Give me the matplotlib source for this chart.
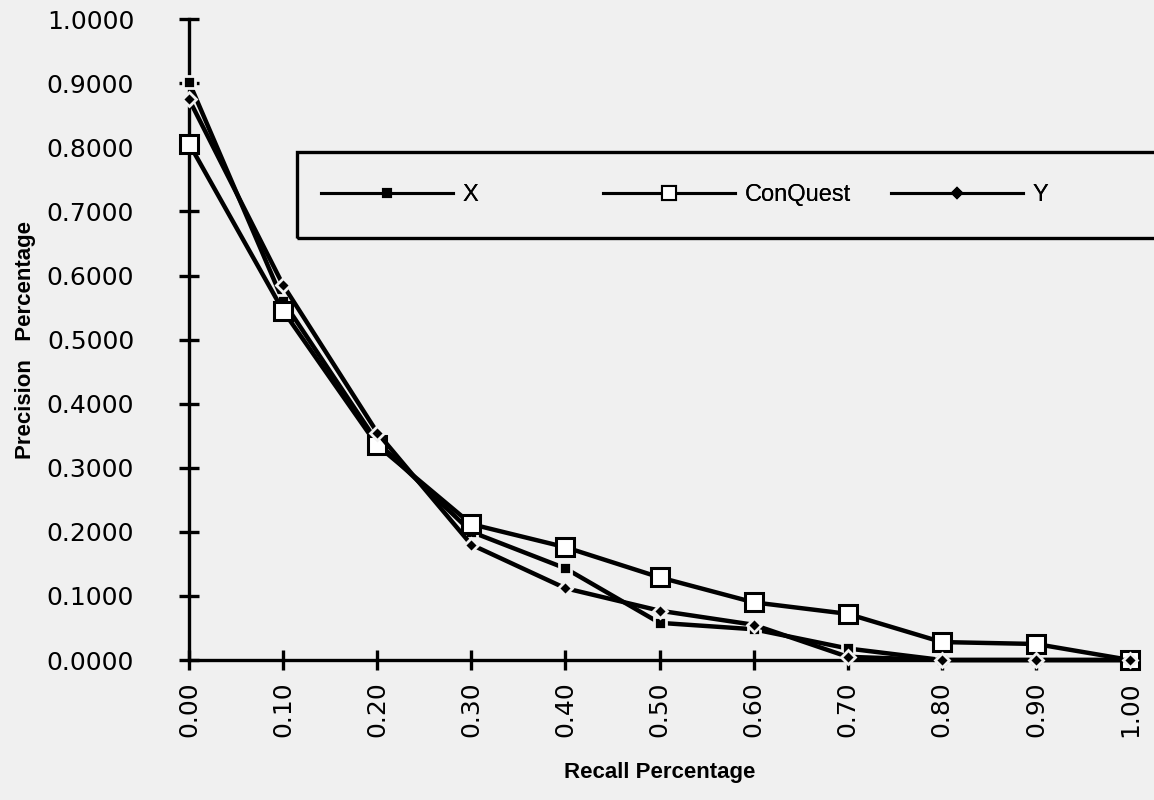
import matplotlib
matplotlib.use("Agg")
import matplotlib.pyplot as plt
from matplotlib.lines import Line2D
from matplotlib.patches import Rectangle

# recall levels and precision values
recall = [0.0, 0.1, 0.2, 0.3, 0.4, 0.5, 0.6, 0.7, 0.8, 0.9, 1.0]
prec_x = [0.902, 0.560, 0.340, 0.200, 0.143, 0.058, 0.048, 0.018, 0.0, 0.0, 0.0]
prec_conquest = [0.806, 0.545, 0.335, 0.212, 0.176, 0.129, 0.090, 0.072, 0.028, 0.025, 0.0]
prec_y = [0.875, 0.585, 0.355, 0.180, 0.112, 0.077, 0.055, 0.005, 0.0, 0.0, 0.0]

y_ticks = [0.0, 0.1, 0.2, 0.3, 0.4, 0.5, 0.6, 0.7, 0.8, 0.9, 1.0]
series_names = ["X", "ConQuest", "Y"]

BG = "#f0f0f0"
TICK_FONT = "DejaVu Sans"
LABEL_FONT = ["Liberation Sans", "DejaVu Sans"]
LEGEND_FONT = ["Liberation Sans Narrow", "Liberation Sans", "DejaVu Sans"]

fig = plt.figure(figsize=(11.54, 8.0), dpi=100, facecolor=BG)
ax = fig.add_axes([0.1638, 0.175, 0.8154, 0.801], facecolor=BG)

styles = [
    dict(marker="s", markersize=8, markerfacecolor="black", markeredgecolor=BG, markeredgewidth=2.0),
    dict(marker="s", markersize=13, markerfacecolor="white", markeredgecolor="black", markeredgewidth=2.2),
    dict(marker="D", markersize=7, markerfacecolor="black", markeredgecolor=BG, markeredgewidth=2.0),
]
series = [prec_x, prec_conquest, prec_y]
handles = []
for name, values, style in zip(series_names, series, styles):
    (line,) = ax.plot(recall, values, color="black", linewidth=3.2, clip_on=False,
                      label=name, zorder=3, **style)
    handles.append(line)

ax.set_xlim(0, 1.0)
ax.set_ylim(0, 1.0)
ax.set_xticks(recall)
ax.set_xticklabels([f"{v:.2f}" for v in recall], rotation=90, fontsize=18, family=TICK_FONT)
ax.set_yticks(y_ticks)
ax.set_yticklabels([f"{v:.4f}" for v in y_ticks], fontsize=18, family=TICK_FONT)
ax.tick_params(direction="inout", length=15, width=2.4, color="black")
ax.tick_params(axis="x", pad=8)
ax.tick_params(axis="y", pad=32)

for side in ["top", "right"]:
    ax.spines[side].set_visible(False)
for side in ["left", "bottom"]:
    ax.spines[side].set_linewidth(2.4)

ax.set_xlabel("Recall Percentage", fontsize=16, fontweight="bold", family=LABEL_FONT, labelpad=18)
ax.set_ylabel("Precision   Percentage", fontsize=16, fontweight="bold", family=LABEL_FONT, labelpad=8)

# legend frame, running off the right edge like the original
fig.patches.append(Rectangle((297 / 1154, 1 - 238 / 800), 0.8, 86 / 800,
                             transform=fig.transFigure, facecolor="none",
                             edgecolor="black", linewidth=2.4, zorder=5))

legend_x = [300 / 1154, 582 / 1154, 870 / 1154]
for handle, x0 in zip(handles, legend_x):
    proxy = Line2D([], [], color="black", linewidth=2.2, marker=handle.get_marker(),
                   markersize=handle.get_markersize() * 0.75,
                   markerfacecolor=handle.get_markerfacecolor(),
                   markeredgecolor="black", markeredgewidth=1.5)
    leg = fig.legend([proxy], [handle.get_label()], loc="center left",
                     bbox_to_anchor=(x0, 1 - 195 / 800), frameon=False,
                     handlelength=5.6, handletextpad=0.4,
                     prop={"family": LEGEND_FONT, "size": 17})
    fig.add_artist(leg)

fig.savefig("out.png", dpi=100, facecolor=BG)
